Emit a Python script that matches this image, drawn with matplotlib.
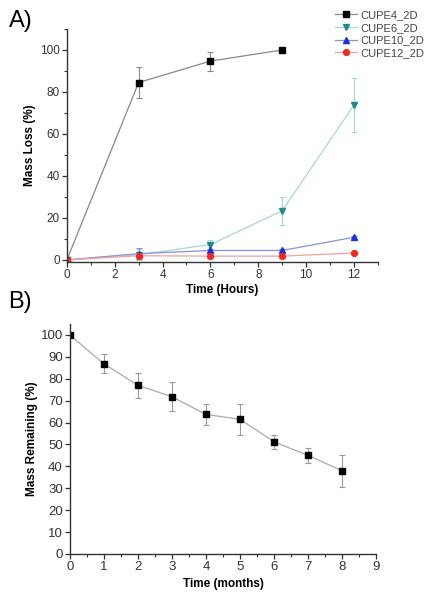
import numpy as np
import matplotlib
matplotlib.use("Agg")
import matplotlib.pyplot as plt
from matplotlib.ticker import MultipleLocator

plt.rcParams['font.family'] = ['Liberation Sans', 'DejaVu Sans']

# panel A - mass loss (hours)
hours = [0, 3, 6, 9, 12]
cupe4 = [0, 84.5, 94.7, 100.0]
cupe4_err = [0, 7.3, 4.5, 0]
cupe6 = [0, 2.5, 7.3, 23.4, 73.8]
cupe6_err = [0, 2.5, 2.0, 6.8, 13.0]
cupe10 = [0, 3.0, 4.5, 4.5, 10.8]
cupe10_err = [0, 2.5, 0.8, 0.8, 0.8]
cupe12 = [0, 2.0, 1.8, 1.8, 3.3]
cupe12_err = [0, 1.0, 0.5, 0.5, 0.5]

# panel B - mass remaining (months)
months = [0, 1, 2, 3, 4, 5, 6, 7, 8]
remaining = [100, 86.8, 77.0, 71.8, 63.7, 61.5, 51.2, 45.0, 38.0]
remaining_err = [0, 4.3, 5.7, 6.6, 4.8, 7.2, 3.2, 3.4, 7.4]

fig = plt.figure(figsize=(4.26, 6.0), dpi=100)
axA = fig.add_axes([0.157, 0.5633, 0.73, 0.3884])
axB = fig.add_axes([0.164, 0.0767, 0.719, 0.3833])

def style(ax, lsize):
    for s in ['top', 'right']:
        ax.spines[s].set_visible(False)
    for s in ['left', 'bottom']:
        ax.spines[s].set_color('#333333')
        ax.spines[s].set_linewidth(1.0)
    ax.tick_params(which='major', direction='out', length=3.5, width=0.9,
                   labelsize=lsize, colors='#333333', pad=1.5)
    ax.tick_params(which='minor', direction='out', length=2, width=0.8, colors='#333333')

series = [
    ('CUPE4_2D', hours[:4], cupe4, cupe4_err, 's', 'black', '#888888'),
    ('CUPE6_2D', hours, cupe6, cupe6_err, 'v', '#1f8a8a', '#a8d6d6'),
    ('CUPE10_2D', hours, cupe10, cupe10_err, '^', '#1a2fe0', '#8a8fd8'),
    ('CUPE12_2D', hours, cupe12, cupe12_err, 'o', '#f02a1e', '#f5a0a0'),
]
handles = []
for name, x, y, e, m, mc, lc in series:
    axA.errorbar(x, y, yerr=e, fmt='none', ecolor=lc, elinewidth=0.8, capsize=2, capthick=0.8)
    h, = axA.plot(x, y, color=lc, lw=0.9, marker=m, markersize=4.2,
                  markerfacecolor=mc, markeredgecolor=mc, label=name)
    handles.append(h)

style(axA, 8.5)
axA.set_xlim(0, 13)
axA.set_ylim(-1, 110)
axA.xaxis.set_major_locator(MultipleLocator(2))
axA.xaxis.set_minor_locator(MultipleLocator(1))
axA.yaxis.set_major_locator(MultipleLocator(20))
axA.yaxis.set_minor_locator(MultipleLocator(10))
axA.set_xticks([0, 2, 4, 6, 8, 10, 12])
axA.set_xlabel('Time (Hours)', fontsize=8.5, fontweight='bold', labelpad=2)
axA.set_ylabel('Mass Loss (%)', fontsize=8.5, fontweight='bold', labelpad=3)
fig.legend(handles=handles, loc='upper right', bbox_to_anchor=(1.02, 1.0),
           frameon=False, fontsize=8, handlelength=2.0, handletextpad=0.3,
           labelspacing=0.25, labelcolor='#444444')

axB.errorbar(months, remaining, yerr=remaining_err, fmt='none', ecolor='#999999',
             elinewidth=0.8, capsize=2, capthick=0.8)
axB.plot(months, remaining, color='#aaaaaa', lw=0.9, marker='s', markersize=4,
         markerfacecolor='black', markeredgecolor='black')
style(axB, 9.5)
axB.set_xlim(0, 9)
axB.set_ylim(0, 105)
axB.xaxis.set_major_locator(MultipleLocator(1))
axB.xaxis.set_minor_locator(MultipleLocator(0.5))
axB.yaxis.set_major_locator(MultipleLocator(10))
axB.set_xlabel('Time (months)', fontsize=8.5, fontweight='bold', labelpad=4)
axB.set_ylabel('Mass Remaining (%)', fontsize=8.5, fontweight='bold', labelpad=2)

fig.text(0.02, 0.965, 'A)', fontsize=17, va='center', ha='left')
fig.text(0.02, 0.497, 'B)', fontsize=17, va='center', ha='left')

fig.savefig('out.png', dpi=100)
